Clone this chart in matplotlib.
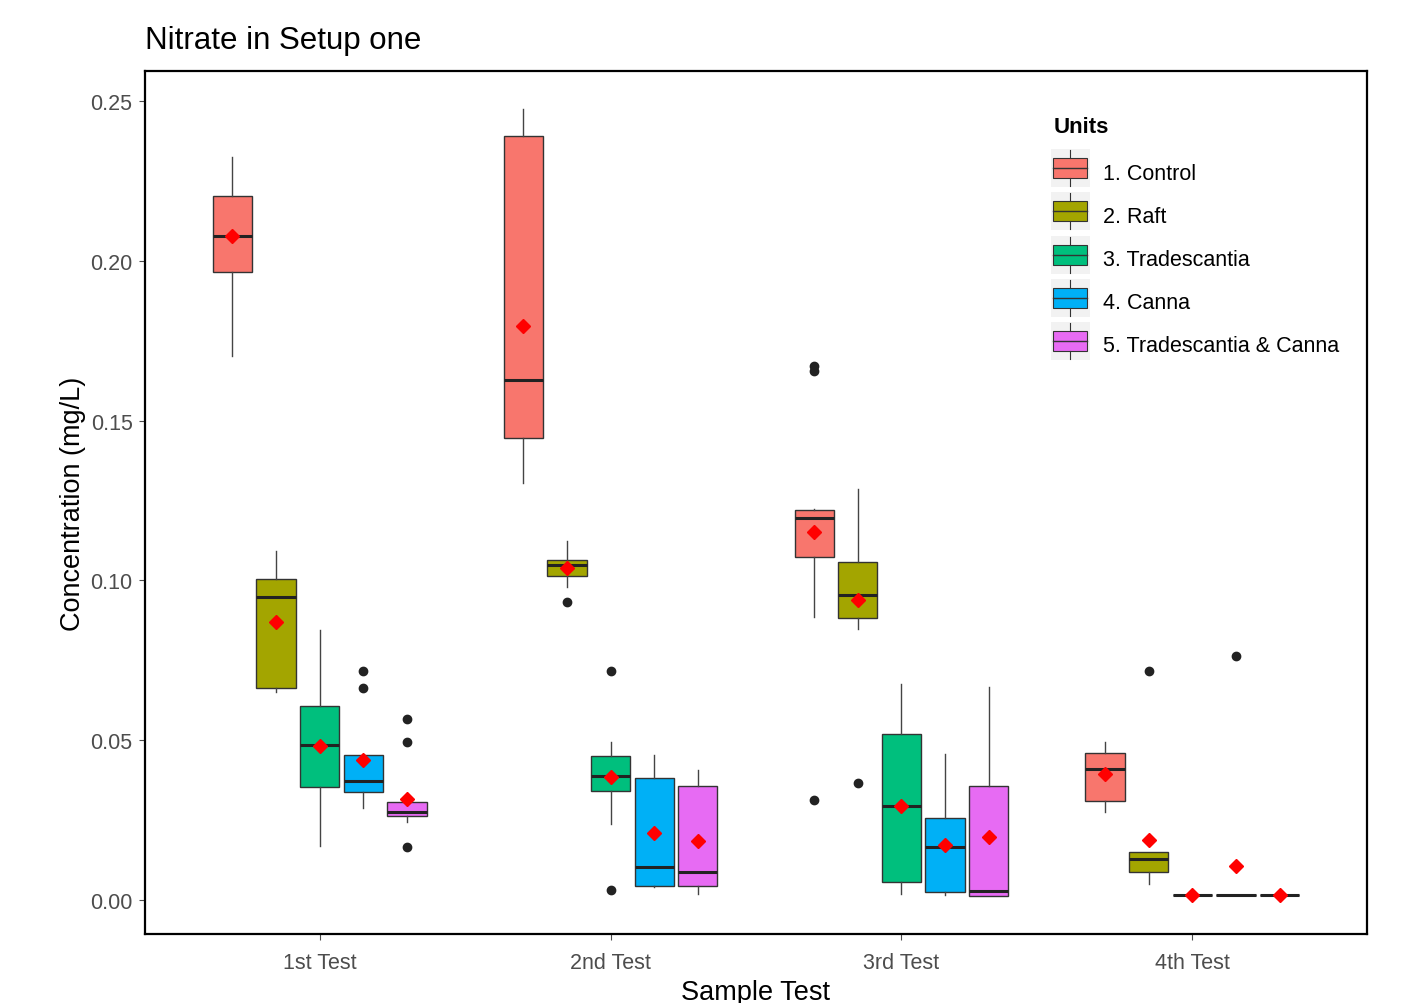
import matplotlib
matplotlib.use("Agg")
import matplotlib.pyplot as plt
from matplotlib.legend_handler import HandlerBase
from matplotlib.patches import Rectangle, Patch
from matplotlib.lines import Line2D

plt.rcParams['font.family'] = ['Liberation Sans', 'DejaVu Sans']

tests = ["1st Test", "2nd Test", "3rd Test", "4th Test"]
units = ["1. Control", "2. Raft", "3. Tradescantia", "4. Canna", "5. Tradescantia & Canna"]
colors = ["#F8766D", "#A3A500", "#00BF7D", "#00B0F6", "#E76BF3"]

# box stats, one row per test, one column per unit
whislo = [[0.1702, 0.0651, 0.0169, 0.0288, 0.0244],
          [0.1305, 0.0979, 0.0238, 0.0040, 0.0019],
          [0.0885, 0.0848, 0.0019, 0.0016, 0.0013],
          [0.0275, 0.0050, 0.0017, 0.0017, 0.0017]]
q1 = [[0.1965, 0.0663, 0.0354, 0.0338, 0.0263],
      [0.1446, 0.1014, 0.0341, 0.0044, 0.0044],
      [0.1073, 0.0882, 0.0056, 0.0025, 0.0013],
      [0.0310, 0.0088, 0.0017, 0.0017, 0.0017]]
med = [[0.2078, 0.0948, 0.0485, 0.0372, 0.0275],
       [0.1627, 0.1048, 0.0388, 0.0103, 0.0088],
       [0.1195, 0.0954, 0.0294, 0.0166, 0.0028],
       [0.0410, 0.0128, 0.0017, 0.0017, 0.0017]]
q3 = [[0.2203, 0.1004, 0.0607, 0.0454, 0.0307],
      [0.2391, 0.1064, 0.0451, 0.0382, 0.0357],
      [0.1220, 0.1058, 0.0519, 0.0256, 0.0357],
      [0.0460, 0.0150, 0.0017, 0.0017, 0.0017]]
whishi = [[0.2325, 0.1092, 0.0845, 0.0454, 0.0307],
          [0.2475, 0.1123, 0.0494, 0.0454, 0.0407],
          [0.1225, 0.1286, 0.0676, 0.0457, 0.0666],
          [0.0494, 0.0150, 0.0017, 0.0017, 0.0017]]
means = [[0.2078, 0.0870, 0.0482, 0.0438, 0.0316],
         [0.1796, 0.1039, 0.0385, 0.0210, 0.0185],
         [0.1151, 0.0939, 0.0295, 0.0172, 0.0197],
         [0.0394, 0.0188, 0.0016, 0.0107, 0.0015]]
fliers = [[[], [], [], [0.0717, 0.0663], [0.0566, 0.0494, 0.0166]],
          [[], [0.0932], [0.0717, 0.0031], [], []],
          [[0.1671, 0.1655, 0.0313], [0.0366], [], [], []],
          [[], [0.0717], [], [0.0763], []]]


class BoxKey(HandlerBase):
    def create_artists(self, legend, orig_handle, xdescent, ydescent,
                       width, height, fontsize, trans):
        x0, y0 = -xdescent, -ydescent
        cx = x0 + width / 2
        fc = orig_handle.get_facecolor()
        bg = Rectangle((x0 - 2, y0 - 0.45 * height), width + 4, 1.9 * height,
                       fc="#F2F2F2", ec="none", transform=trans)
        box = Rectangle((x0, y0), width, height,
                        fc=fc, ec="#333333", lw=0.8, transform=trans)
        mid = Line2D([x0, x0 + width], [y0 + 0.5 * height] * 2,
                     color="#333333", lw=1.0, transform=trans)
        w1 = Line2D([cx, cx], [y0 + height, y0 + 1.4 * height],
                    color="#333333", lw=0.8, transform=trans)
        w2 = Line2D([cx, cx], [y0 - 0.4 * height, y0],
                    color="#333333", lw=0.8, transform=trans)
        return [bg, box, mid, w1, w2]


fig = plt.figure(figsize=(14.04, 10.04), dpi=100)
ax = fig.add_axes([0.1033, 0.0687, 0.8703, 0.8596])

n = len(units)
step = 0.75 / n
for i, t in enumerate(tests):
    for j in range(n):
        st = dict(whislo=whislo[i][j], q1=q1[i][j], med=med[i][j],
                  q3=q3[i][j], whishi=whishi[i][j], mean=means[i][j],
                  fliers=fliers[i][j])
        pos = i + 1 + (j - (n - 1) / 2) * step
        b = ax.bxp([st], positions=[pos], widths=step * 0.9,
                   patch_artist=True, showmeans=True, showcaps=False,
                   boxprops=dict(facecolor=colors[j], edgecolor="#333333", lw=1.0),
                   medianprops=dict(color="#222222", lw=2.2, solid_capstyle="butt"),
                   whiskerprops=dict(color="#444444", lw=1.0),
                   flierprops=dict(marker="o", markerfacecolor="#222222",
                                   markeredgecolor="#222222", markersize=6),
                   meanprops=dict(marker="D", markerfacecolor="red",
                                  markeredgecolor="red", markersize=7))
        for box in b["boxes"]:
            box.set_zorder(2)

ax.set_xlim(0.4, 4.6)
ax.set_ylim(-0.0106, 0.2594)
ax.set_xticks(range(1, len(tests) + 1))
ax.set_xticklabels(tests)
ax.set_yticks([0.0, 0.05, 0.10, 0.15, 0.20, 0.25])
ax.set_yticklabels(["0.00", "0.05", "0.10", "0.15", "0.20", "0.25"])
ax.tick_params(colors="#4D4D4D", labelsize=15.5, length=4, width=0.8)
ax.tick_params(axis="x", pad=9)
ax.tick_params(axis="y", pad=5)
for s in ax.spines.values():
    s.set_linewidth(1.6)
    s.set_color("black")

ax.set_xlabel("Sample Test", fontsize=19.5, labelpad=4)
ax.set_ylabel("Concentration (mg/L)", fontsize=19.5, labelpad=3)
fig.text(145 / 1404, 1 - 41 / 1004, "Nitrate in Setup one", fontsize=22.5,
         ha="left", va="center")

handles = [Patch(facecolor=c) for c in colors]
leg = fig.legend(handles, units, handler_map={Patch: BoxKey()},
                 loc="upper left", bbox_to_anchor=(1034 / 1404, 1 - 98 / 1004),
                 frameon=False, fontsize=15.5, title="Units",
                 title_fontproperties=dict(weight="bold", size=16),
                 handlelength=1.55, handleheight=1.05, labelspacing=0.97,
                 handletextpad=0.75, alignment="left")
leg.get_title().set_y(0)
for txt in leg.get_texts():
    txt.set_y(-3)

fig.savefig("out.png", dpi=100)
